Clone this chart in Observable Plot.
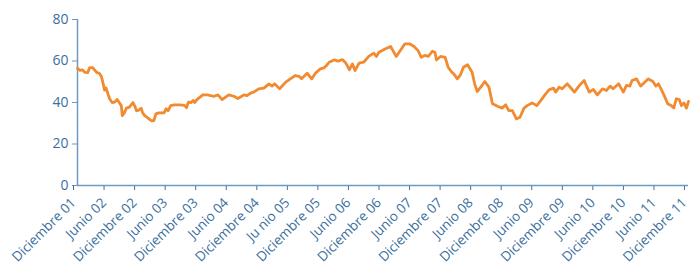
<!DOCTYPE html>
<html>
<head>
<meta charset="utf-8">
<script src="https://cdn.jsdelivr.net/npm/d3@7"></script>
<script src="https://cdn.jsdelivr.net/npm/@observablehq/plot@0.6"></script>
<style>
  html, body { margin: 0; padding: 0; background: #fff; }
  #chart svg { display: block; }
</style>
</head>
<body>
<div id="chart"></div>
<script>
// Months elapsed since December 2001
const months = [0,0.5,1,1.5,2,2.4,3,3.4,3.8,4.3,4.7,5.1,5.3,5.6,6,6.3,6.8,7.3,7.8,8.2,8.6,8.8,9.2,9.6,10.2,10.9,11.3,11.6,12,12.5,12.8,13.2,13.8,14.5,15,15.4,16,17,17.4,17.8,18.3,19,20,21,21.4,21.8,22.3,22.7,23,23.5,24,24.6,25.5,26.8,27.6,28.4,29.7,30.7,31.5,32.7,33.3,34,34.6,35.6,36.6,37.6,38.2,38.7,39.7,40.9,41.8,42.8,43.5,44,45.1,46,46.8,47.7,48.4,48.9,49.4,50.4,51.2,52,52.7,53.4,54,54.5,55.3,56.2,57.2,58.2,58.7,59.2,60.5,61.5,62.6,63.5,64.3,65.2,66.1,66.9,67.5,68.2,68.9,69.7,70.2,70.5,71.3,72.2,72.8,73.5,73.9,74.6,75.2,75.8,76.6,77.5,78,78.5,79.2,80,80.8,81.5,82.5,83.4,84.1,84.7,85.4,86.2,86.9,87.7,88.3,89.3,90.2,91,91.8,92.6,93.5,93.9,94.6,95.2,96.2,96.9,97.6,98.5,99.5,100.5,101.3,102.1,103.1,103.9,104.6,105.2,106.3,107.2,107.8,108.5,108.9,109.8,110.6,111.3,112.1,113,113.6,114.1,114.6,115.3,115.9,116.6,117.1,117.6,118.2,118.6,119.1,119.6,120];
const values = [56.5,55.5,55.7,54.5,54.4,56.8,56.8,55.5,54.5,54,52.5,48.5,46,47,44,41.8,40,40.2,41.4,40,38.5,33.7,35,37.3,37.8,40,38,36,36.3,37.2,35,33.7,32.6,31.2,31.3,34.5,35,35,37,36,38.5,38.9,38.9,38.6,37.5,40.2,40,41,40,41.5,42.5,43.7,43.7,43,43.7,41.4,43.7,43,41.9,43.7,43.3,44.5,45,46.6,46.9,49,47.9,49,46.6,49.8,51.4,53,52.6,51.4,54.1,51.4,54.3,56.2,56.7,57.8,59.4,60.5,59.9,60.7,59,55.8,58.6,55.4,59,59.4,62.2,63.8,62.2,64.2,65.9,67,62.2,65.4,68.3,68.3,67,65,61.8,62.7,62.2,64.7,64.2,60.5,62.2,61.8,57,54.6,53.8,51.4,53.3,57,58.2,54.6,49,45.3,47.4,50.1,47.4,39.4,38.2,37.3,38.9,36.1,36.1,32.1,32.9,37.3,38.5,39.8,38.5,41,43.7,46.1,46.9,45,47.4,46.6,49,47,45,48,50.6,45,46.3,43.7,46.6,45.8,47.9,46.6,49,45,48.2,47.9,50.6,51.4,47.9,49.5,51.4,50.1,47.9,49,46.6,43,39.4,38.5,37.3,41.8,41.4,38.5,39.8,37.3,40.5];

const tickMonths = [0,6,12,18,24,30,36,42,48,54,60,66,72,78,84,90,96,102,108,114,120];
const tickLabels = ["Diciembre 01","Junio 02","Diciembre 02","Junio 03","Diciembre 03","Junio 04","Diciembre 04","Ju nio 05","Diciembre 05","Junio 06","Diciembre 06","Junio 07","Diciembre 07","Junio 08","Diciembre 08","Junio 09","Diciembre 09","Junio 10","Diciembre 10","Junio 11","Diciembre 11"];
const yTicks = [0,20,40,60,80];

const data = months.map((m, i) => ({month: m, value: values[i]}));
const labelOf = new Map(tickMonths.map((m, i) => [m, tickLabels[i]]));

const textColor = "#3b6f9e";
const lineColor = "#6b9bc3";

const chart = Plot.plot({
  width: 691,
  height: 266,
  marginLeft: 77,
  marginRight: 3,
  marginTop: 19,
  marginBottom: 81,
  style: {fontFamily: "'Open Sans', sans-serif", fontSize: "14px", color: textColor, background: "#fff"},
  x: {domain: [0, 120]},
  y: {domain: [0, 80]},
  marks: [
    Plot.axisY({ticks: yTicks, tickSize: 5, tickPadding: 4, label: null, stroke: lineColor, fill: textColor}),
    Plot.axisX({ticks: tickMonths, tickFormat: d => labelOf.get(d), tickSize: 5, tickPadding: 10, dx: -4, tickRotate: -45, fontSize: 13.5, label: null, stroke: textColor, fill: textColor}),
    Plot.ruleX([0], {stroke: lineColor, strokeWidth: 1.5}),
    Plot.ruleY([0], {stroke: lineColor, strokeWidth: 1.5}),
    Plot.line(data, {x: "month", y: "value", stroke: "#f28a30", strokeWidth: 2.8, strokeLinejoin: "round"})
  ]
});
document.getElementById("chart").appendChild(chart);
</script>
</body>
</html>
